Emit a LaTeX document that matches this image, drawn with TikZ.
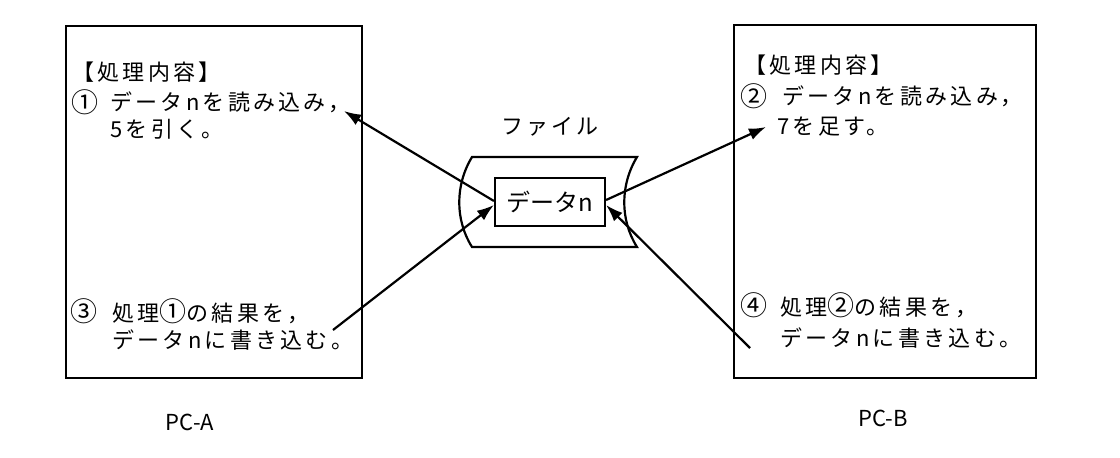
\documentclass[tikz,border=0pt]{standalone}
\usepackage{fontspec}
\setmainfont{Noto Sans CJK JP}[LetterSpace=15]
\newfontfamily\numfont{Noto Sans CJK JP}
\usetikzlibrary{arrows.meta}
\tikzset{
  pcbox/.style={draw, line width=2.4pt, minimum width=#1, inner sep=0pt},
  txt/.style={anchor=west, inner sep=0pt, font=\fontsize{22}{26}\selectfont},
  circ/.style={anchor=west, inner sep=0pt, font=\numfont\fontsize{27}{30}\selectfont},
  lbl/.style={inner sep=0pt, font=\numfont\fontsize{22}{24}\selectfont},
  conn/.style={line width=2.2pt, -{Latex[length=17pt,width=12pt]}},
  fileshape/.style={draw, line width=2.2pt},
}
\begin{document}
\begin{tikzpicture}[x=1pt,y=-1pt]
\useasboundingbox (0,0) rectangle (1120,458);
% PC boxes
\node[pcbox=296pt, minimum height=352pt] (boxA) at (214,202) {};
\node[pcbox=302pt, minimum height=353pt] (boxB) at (885,201.5) {};
% file shape
\draw[fileshape] (472,157) -- (637,157)
  .. controls (620,185) and (620,220) .. (637,247) -- (472,247)
  .. controls (455,220) and (455,185) .. (472,157) -- cycle;
\node[draw, line width=2.2pt, minimum width=110pt, minimum height=48pt, inner sep=0pt,
      font=\numfont\fontsize{24}{26}\selectfont] (data) at (550,202) {データn};
\node[inner sep=0pt, font=\fontsize{22}{26}\selectfont] (fileL) at (550,127) {ファイル};
% PC-A texts
\node[txt] (a0) at (72,72) {【処理内容】};
\node[circ] (a1n) at (71,102) {①};
\node[txt] (a1) at (110,102) {データnを読み込み，};
\node[txt] (a2) at (110,129) {5を引く。};
\node[circ] (a3n) at (70,311) {③};
\node[txt] (a3) at (112,311) {処理{\numfont\fontsize{27}{30}\selectfont ①}の結果を，};
\node[txt] (a4) at (112,340) {データnに書き込む。};
% PC-B texts
\node[txt] (b0) at (744,65) {【処理内容】};
\node[circ] (b1n) at (740,96) {②};
\node[txt] (b1) at (782,96) {データnを読み込み，};
\node[txt] (b2) at (777,127) {7を足す。};
\node[circ] (b3n) at (740,305) {④};
\node[txt] (b3) at (780,305) {処理{\numfont\fontsize{27}{30}\selectfont ②}の結果を，};
\node[txt] (b4) at (780,338) {データnに書き込む。};
% labels
\node[lbl] (pca) at (190,422) {PC-A};
\node[lbl] (pcb) at (883,418) {PC-B};
% connector ends
\coordinate (e1) at (344,111);
\coordinate (s2) at (333,330);
\coordinate (e3) at (766,127);
\coordinate (s4) at (750,348);
\draw[conn] ([yshift=1pt]data.west) -- (e1);
\draw[conn] (s2) -- ([yshift=-3pt]data.west);
\draw[conn] ([yshift=2pt]data.east) -- (e3);
\draw[conn] (s4) -- ([yshift=-3pt]data.east);
\end{tikzpicture}
\end{document}
